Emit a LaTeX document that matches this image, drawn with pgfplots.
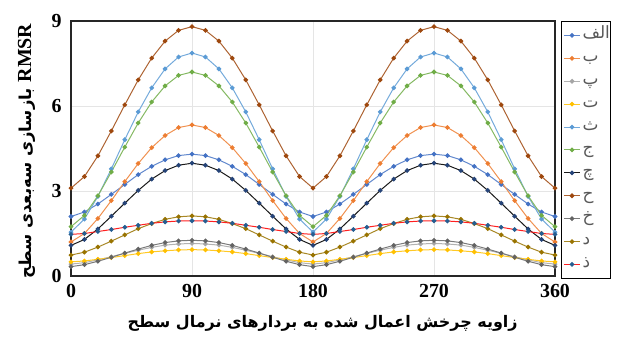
\documentclass[border=0pt]{standalone}
\usepackage{fontspec}
\setmainfont{Liberation Serif}
\newfontfamily\arabicfont[Script=Arabic]{DejaVu Sans}
\usepackage{pgfplots}
\usepackage{pgfplotstable}
\pgfplotsset{compat=1.18}
\TeXXeTstate=1
\definecolor{cA}{HTML}{4472C4}
\definecolor{cB}{HTML}{ED7D31}
\definecolor{cP}{HTML}{A5A5A5}
\definecolor{cT}{HTML}{FFC000}
\definecolor{cTh}{HTML}{5B9BD5}
\definecolor{cJ}{HTML}{70AD47}
\definecolor{cCh}{HTML}{264478}
\definecolor{cH}{HTML}{9E480E}
\definecolor{cKh}{HTML}{636363}
\definecolor{cD}{HTML}{997300}
\definecolor{cDh}{HTML}{255E91}
\definecolor{cRed}{HTML}{FF2020}

\pgfplotstableread{
x   A    B    P    T    Th   J    Ch   H    Kh   D    Dh
0   2.10 1.20 0.42 0.50 1.55 1.74 1.08 3.10 0.33 0.74 1.47
10  2.26 1.50 0.47 0.53 2.01 2.14 1.29 3.51 0.40 0.84 1.50
20  2.54 2.03 0.57 0.59 2.81 2.83 1.66 4.24 0.52 1.02 1.57
30  2.88 2.66 0.68 0.65 3.78 3.67 2.11 5.12 0.66 1.23 1.64
40  3.23 3.33 0.80 0.72 4.81 4.55 2.57 6.04 0.81 1.45 1.72
50  3.58 3.97 0.91 0.79 5.79 5.40 3.02 6.92 0.95 1.67 1.79
60  3.87 4.53 1.01 0.85 6.64 6.14 3.42 7.69 1.08 1.85 1.86
70  4.10 4.96 1.09 0.89 7.31 6.71 3.72 8.29 1.18 2.00 1.91
80  4.25 5.24 1.13 0.92 7.73 7.08 3.91 8.67 1.24 2.09 1.94
90  4.30 5.33 1.15 0.93 7.87 7.20 3.98 8.80 1.26 2.12 1.95
100 4.25 5.24 1.13 0.92 7.73 7.08 3.91 8.67 1.24 2.09 1.94
110 4.10 4.96 1.09 0.89 7.31 6.71 3.72 8.29 1.18 2.00 1.91
120 3.87 4.53 1.01 0.85 6.64 6.14 3.42 7.69 1.08 1.85 1.86
130 3.58 3.97 0.91 0.79 5.79 5.40 3.02 6.92 0.95 1.67 1.79
140 3.23 3.33 0.80 0.72 4.81 4.55 2.57 6.04 0.81 1.45 1.72
150 2.88 2.66 0.68 0.65 3.78 3.67 2.11 5.12 0.66 1.23 1.64
160 2.54 2.03 0.57 0.59 2.81 2.83 1.66 4.24 0.52 1.02 1.57
170 2.26 1.50 0.47 0.53 2.01 2.14 1.29 3.51 0.40 0.84 1.50
180 2.10 1.20 0.42 0.50 1.55 1.74 1.08 3.10 0.33 0.74 1.47
190 2.26 1.50 0.47 0.53 2.01 2.14 1.29 3.51 0.40 0.84 1.50
200 2.54 2.03 0.57 0.59 2.81 2.83 1.66 4.24 0.52 1.02 1.57
210 2.88 2.66 0.68 0.65 3.78 3.67 2.11 5.12 0.66 1.23 1.64
220 3.23 3.33 0.80 0.72 4.81 4.55 2.57 6.04 0.81 1.45 1.72
230 3.58 3.97 0.91 0.79 5.79 5.40 3.02 6.92 0.95 1.67 1.79
240 3.87 4.53 1.01 0.85 6.64 6.14 3.42 7.69 1.08 1.85 1.86
250 4.10 4.96 1.09 0.89 7.31 6.71 3.72 8.29 1.18 2.00 1.91
260 4.25 5.24 1.13 0.92 7.73 7.08 3.91 8.67 1.24 2.09 1.94
270 4.30 5.33 1.15 0.93 7.87 7.20 3.98 8.80 1.26 2.12 1.95
280 4.25 5.24 1.13 0.92 7.73 7.08 3.91 8.67 1.24 2.09 1.94
290 4.10 4.96 1.09 0.89 7.31 6.71 3.72 8.29 1.18 2.00 1.91
300 3.87 4.53 1.01 0.85 6.64 6.14 3.42 7.69 1.08 1.85 1.86
310 3.58 3.97 0.91 0.79 5.79 5.40 3.02 6.92 0.95 1.67 1.79
320 3.23 3.33 0.80 0.72 4.81 4.55 2.57 6.04 0.81 1.45 1.72
330 2.88 2.66 0.68 0.65 3.78 3.67 2.11 5.12 0.66 1.23 1.64
340 2.54 2.03 0.57 0.59 2.81 2.83 1.66 4.24 0.52 1.02 1.57
350 2.26 1.50 0.47 0.53 2.01 2.14 1.29 3.51 0.40 0.84 1.50
360 2.10 1.20 0.42 0.50 1.55 1.74 1.08 3.10 0.33 0.74 1.47
}\datatable

\begin{document}
\begin{tikzpicture}
\useasboundingbox (-71bp,-62bp) rectangle (551bp,276bp);
\begin{axis}[
  at={(0,0)}, anchor=south west,
  scale only axis, width=484bp, height=255bp,
  xmin=0, xmax=360, ymin=0, ymax=9,
  xtick={0,90,180,270,360}, ytick={0,3,6,9},
  grid=major, major grid style={draw=black!10, line width=0.7bp},
  axis line style={line width=1.3bp, draw=black!85},
  tick style={draw=none},
  ticklabel style={font=\fontsize{20}{24}\selectfont\bfseries},
  /pgf/number format/assume math mode=true,
  xticklabel style={yshift=-5bp},
  yticklabel style={xshift=-6bp},
  xlabel={\arabicfont\bfseries\beginR زاویه چرخش اعمال شده به بردارهای نرمال سطح\endR},
  xlabel style={font=\fontsize{16}{18}\selectfont, at={(axis description cs:0.52,-0.185)}, anchor=center},
  ylabel={\arabicfont\bfseries\beginR\beginL{\rmfamily\bfseries\fontsize{20}{22}\selectfont RMSR}\endL{} بازسازی سه‌بعدی سطح\endR},
  ylabel style={font=\fontsize{16.5}{18}\selectfont, at={(axis description cs:-0.092,0.49)}, anchor=center, rotate=0},
  legend style={at={(axis description cs:1.0124,1)}, anchor=north west,
    draw=black, line width=1bp, inner xsep=2bp, inner ysep=2.5bp,
    font=\arabicfont\fontsize{17}{17}\selectfont, text=black!65,
    nodes={text height=11.5bp, text depth=5bp, inner ysep=3.2bp, inner xsep=2bp, text width=24bp, align=left}},
  legend cell align=left,
  legend image code/.code={\draw[mark repeat=2,mark phase=2,#1] plot coordinates {(0bp,0bp) (8bp,0bp) (16bp,0bp)};},
  every axis plot/.append style={line width=1bp, mark=*, mark size=1.8bp},
]
\addplot[cA!85, mark options={fill=cA, draw=cA}] table[x=x,y=A] {\datatable};
\addlegendentry{\beginR الف\endR}
\addplot[cB!85, mark options={fill=cB, draw=cB}] table[x=x,y=B] {\datatable};
\addlegendentry{\beginR ب\endR}
\addplot[cP!85, mark options={fill=cP, draw=cP}] table[x=x,y=P] {\datatable};
\addlegendentry{\beginR پ\endR}
\addplot[cT!85, mark options={fill=cT, draw=cT}] table[x=x,y=T] {\datatable};
\addlegendentry{\beginR ت\endR}
\addplot[cTh!85, mark options={fill=cTh, draw=cTh}] table[x=x,y=Th] {\datatable};
\addlegendentry{\beginR ث\endR}
\addplot[cJ!85, mark options={fill=cJ, draw=cJ}] table[x=x,y=J] {\datatable};
\addlegendentry{\beginR ج\endR}
\addplot[black!90, mark options={fill=cCh, draw=cCh}] table[x=x,y=Ch] {\datatable};
\addlegendentry{\beginR چ\endR}
\addplot[cH!85, mark options={fill=cH, draw=cH}] table[x=x,y=H] {\datatable};
\addlegendentry{\beginR ح\endR}
\addplot[cKh!85, mark options={fill=cKh, draw=cKh}] table[x=x,y=Kh] {\datatable};
\addlegendentry{\beginR خ\endR}
\addplot[cD!85, mark options={fill=cD, draw=cD}] table[x=x,y=D] {\datatable};
\addlegendentry{\beginR د\endR}
\addplot[cRed, mark options={fill=cDh, draw=cDh}] table[x=x,y=Dh] {\datatable};
\addlegendentry{\beginR ذ\endR}
\end{axis}
\end{tikzpicture}
\end{document}
